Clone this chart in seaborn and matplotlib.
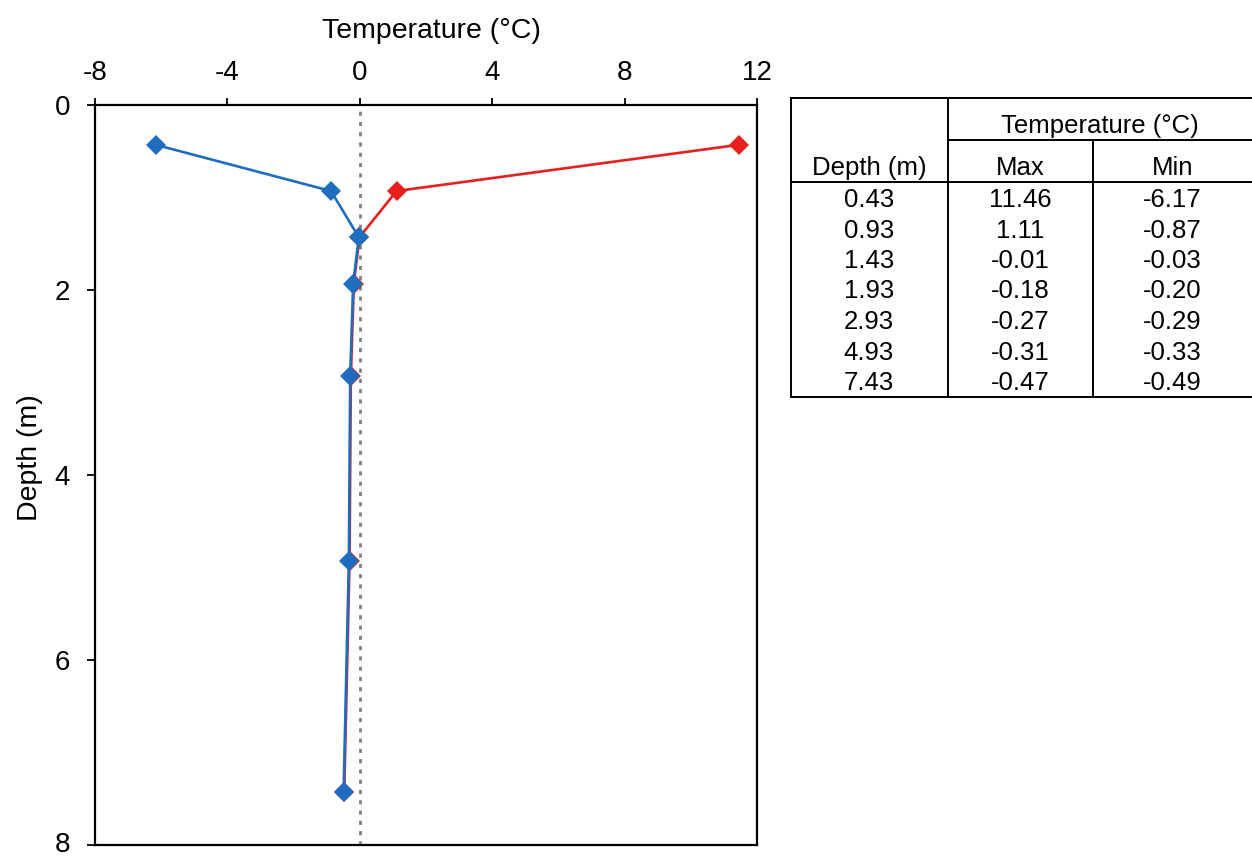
import matplotlib
matplotlib.use("Agg")
import matplotlib.pyplot as plt
from matplotlib import font_manager as fm
from matplotlib.transforms import ScaledTranslation
import seaborn as sns
import pandas as pd

# ---- data ----
depth = [0.43, 0.93, 1.43, 1.93, 2.93, 4.93, 7.43]
t_max = [11.46, 1.11, -0.01, -0.18, -0.27, -0.31, -0.47]
t_min = [-6.17, -0.87, -0.03, -0.20, -0.29, -0.33, -0.49]
depth_labels = ["0.43", "0.93", "1.43", "1.93", "2.93", "4.93", "7.43"]
max_labels = ["11.46", "1.11", "-0.01", "-0.18", "-0.27", "-0.31", "-0.47"]
min_labels = ["-6.17", "-0.87", "-0.03", "-0.20", "-0.29", "-0.33", "-0.49"]
x_ticks = [-8, -4, 0, 4, 8, 12]
y_ticks = [0, 2, 4, 6, 8]

sns.set_theme(style="ticks")
cands = [f for f in fm.fontManager.ttflist
         if f.name == "Liberation Sans" and "Narrow" not in f.fname
         and f.weight in (400, "normal", "regular") and f.style == "normal"]
plt.rcParams["font.family"] = ["Liberation Sans", "DejaVu Sans"]
plt.rcParams["axes.unicode_minus"] = False
plt.rcParams["text.color"] = "black"
plt.rcParams["axes.labelcolor"] = "black"
FP = fm.FontProperties(fname=cands[0].fname) if cands else fm.FontProperties(family="Liberation Sans")

def fp(size):
    p = FP.copy()
    p.set_size(size)
    return p

W, H = 1252, 857
fig = plt.figure(figsize=(W / 100, H / 100), dpi=100)

# ---- profile plot ----
ax = fig.add_axes([95 / W, 12 / H, 662 / W, 740 / H])
df_max = pd.DataFrame({"Temperature": t_max, "Depth": depth})
df_min = pd.DataFrame({"Temperature": t_min, "Depth": depth})

ax.axvline(0, color="#808080", lw=2, ls=(0, (1.5, 2.2)), zorder=1)
sns.lineplot(data=df_max, x="Temperature", y="Depth", orient="y", estimator=None,
             color="#e5201d", lw=1.9, marker="D", markersize=10,
             markeredgewidth=0, ax=ax, zorder=2)
sns.lineplot(data=df_min, x="Temperature", y="Depth", orient="y", estimator=None,
             color="#1f6dbf", lw=1.9, marker="D", markersize=10,
             markeredgewidth=0, ax=ax, zorder=3)

ax.set_xlim(-8, 12)
ax.set_ylim(8, 0)
ax.set_xticks(x_ticks)
ax.set_yticks(y_ticks)
ax.set_xticklabels([str(v) for v in x_ticks], fontproperties=fp(20))
ax.set_yticklabels([str(v) for v in y_ticks], fontproperties=fp(20))
ax.xaxis.tick_top()
ax.xaxis.set_label_position("top")
ax.tick_params(axis="x", which="both", top=True, bottom=False, direction="out",
               length=5, width=1.3, pad=8.5, colors="black")
ax.tick_params(axis="y", which="both", left=True, direction="out",
               length=6, width=1.3, pad=12, colors="black")
# keep the lowest depth label inside the figure edge
last = ax.get_yticklabels()[-1]
last.set_transform(last.get_transform() + ScaledTranslation(0, 3 / 100, fig.dpi_scale_trans))
for s in ax.spines.values():
    s.set_visible(True)
    s.set_linewidth(1.6)
    s.set_color("black")
ax.set_xlabel("Temperature (°C)", fontproperties=fp(20.5), color="black")
ax.set_ylabel("Depth (m)", fontproperties=fp(20.5), color="black")
ax.xaxis.set_label_coords(0.5076, 1.0905)
ax.yaxis.set_label_coords(-0.0785, 0.523)
ax.grid(False)

# ---- table ----
tx0, ty0, tw, th = 790, 97, 462, 301
tax = fig.add_axes([tx0 / W, 1 - (ty0 + th) / H, tw / W, th / H])
tax.set_xlim(0, tw)
tax.set_ylim(th, 0)
tax.axis("off")
lk = dict(color="black", lw=1.4, solid_capstyle="butt")
tax.plot([0, tw], [0.7, 0.7], **lk)
tax.plot([0, tw], [th - 0.7, th - 0.7], **lk)
tax.plot([0.7, 0.7], [0, th], **lk)
tax.plot([158, 158], [0, th], **lk)
tax.plot([303, 303], [43, th], **lk)
tax.plot([158, tw], [43, 43], **lk)
tax.plot([0, tw], [85, 85], **lk)

fs = 18.5
tk = dict(ha="center", va="center", color="black")
tax.text(310, 29, "Temperature (°C)", fontproperties=fp(fs), **tk)
tax.text(79, 71, "Depth (m)", fontproperties=fp(fs), **tk)
tax.text(230.5, 71, "Max", fontproperties=fp(fs), **tk)
tax.text(382.5, 71, "Min", fontproperties=fp(fs), **tk)
row_y0, row_h = 103, 30.5
for i, (d, mx, mn) in enumerate(zip(depth_labels, max_labels, min_labels)):
    yy = row_y0 + i * row_h
    tax.text(79, yy, d, fontproperties=fp(fs), **tk)
    tax.text(230.5, yy, mx, fontproperties=fp(fs), **tk)
    tax.text(382.5, yy, mn, fontproperties=fp(fs), **tk)

fig.savefig("out.png", dpi=100)
